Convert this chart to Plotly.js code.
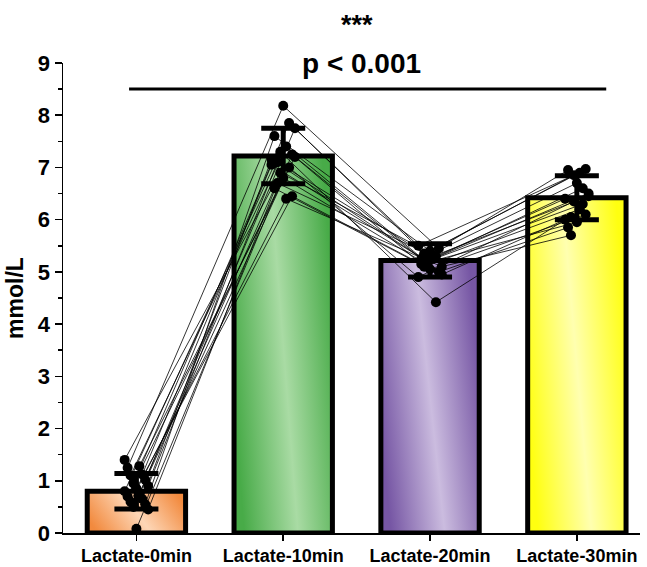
<!DOCTYPE html>
<html>
<head>
<meta charset="utf-8">
<script src="https://cdn.plot.ly/plotly-3.0.1.min.js"></script>
<style>html,body{margin:0;padding:0;background:#fff;}#chart{width:647px;height:567px;}</style>
</head>
<body>
<div id="chart"></div>
<script>
// ---- data ----
const categories = ['Lactate-0min', 'Lactate-10min', 'Lactate-20min', 'Lactate-30min'];
const means = [0.80, 7.22, 5.22, 6.42];
const sds = [0.34, 0.53, 0.32, 0.42];
const lact0 = [1.40, 1.28, 1.25, 1.12, 1.10, 1.02, 0.95, 0.90, 0.85, 0.80, 0.75, 0.70, 0.65, 0.60, 0.55, 0.50, 0.45, 0.08];
const lact10 = [6.90, 7.20, 8.18, 7.05, 7.40, 6.60, 7.85, 7.10, 6.45, 7.30, 7.75, 6.80, 7.15, 6.40, 7.60, 7.00, 6.70, 7.25];
const lact20 = [5.30, 5.10, 5.45, 5.20, 4.95, 5.05, 5.50, 5.25, 5.15, 4.42, 5.35, 5.00, 5.20, 5.10, 5.40, 4.90, 5.30, 5.25];
const lact30 = [6.40, 6.20, 6.95, 6.30, 6.05, 6.10, 6.85, 6.50, 5.95, 6.00, 6.90, 5.85, 6.60, 5.70, 6.97, 6.35, 6.45, 6.70];
const yTicks = [0, 1, 2, 3, 4, 5, 6, 7, 8, 9];
const pText = 'p < 0.001';
const starText = '***';

// ---- styling ----
const gradColors = [
  ['#f28a3e', '#fdd6b6'],
  ['#48ab48', '#a9dba4'],
  ['#7656a4', '#cbbcdf'],
  ['#ffff10', '#ffffb0']
];
const xpos = categories.map((c, i) => i);
const font = 'Liberation Sans, Arial, sans-serif';
const boldFont = (size) => ({family: font, size: size, weight: 'bold', color: '#000'});

const traces = [{
  type: 'bar',
  x: xpos,
  y: means,
  width: 0.67,
  marker: {color: gradColors.map(g => g[1]), line: {color: '#000', width: 5}},
  error_y: {type: 'data', array: sds, visible: true, color: '#000', thickness: 5, width: 22},
  hoverinfo: 'none',
  showlegend: false
}];

const series = [lact0, lact10, lact20, lact30];
for (let s = 0; s < lact0.length; s++) {
  const xs = [], ys = [];
  for (let c = 0; c < series.length; c++) {
    const off = (((s * 5 + c * 3) % 9) - 4) * 0.02;
    xs.push(xpos[c] + off);
    ys.push(series[c][s]);
  }
  traces.push({
    type: 'scatter', mode: 'lines+markers', x: xs, y: ys,
    line: {color: '#000', width: 0.8},
    marker: {color: '#000', size: 10},
    hoverinfo: 'none', showlegend: false, cliponaxis: false
  });
}

const layout = {
  width: 647, height: 567,
  margin: {l: 63, r: 7, t: 63, b: 34},
  paper_bgcolor: '#fff', plot_bgcolor: '#fff',
  font: {family: font, color: '#000'},
  xaxis: {
    range: [-0.5, 3.43], tickvals: xpos, ticktext: categories,
    showgrid: false, zeroline: false, showline: true, linecolor: '#000', linewidth: 1.5,
    ticks: 'outside', ticklen: 6, tickwidth: 1.5, tickcolor: '#000',
    tickfont: boldFont(18)
  },
  yaxis: {
    range: [0, 9], tickvals: yTicks, ticktext: yTicks.map(String),
    showgrid: false, zeroline: false, showline: true, linecolor: '#000', linewidth: 1.5,
    ticks: 'outside', ticklen: 7, tickwidth: 1.5, tickcolor: '#000',
    minor: {dtick: 0.5, ticks: 'outside', ticklen: 4, tickwidth: 1.5, tickcolor: '#000', showgrid: false},
    tickfont: boldFont(22),
    title: {text: 'mmol/L', font: boldFont(23), standoff: 8}
  },
  shapes: [{type: 'line', xref: 'x', yref: 'y', x0: -0.05, x1: 3.2, y0: 8.5, y1: 8.5, line: {color: '#000', width: 3}}],
  annotations: [
    {xref: 'x', yref: 'y', x: 1.53, y: 9.0, text: pText, showarrow: false, yanchor: 'middle', font: boldFont(28)},
    {xref: 'x', yref: 'paper', x: 1.50, y: 1.08, text: starText, showarrow: false, yanchor: 'middle', font: boldFont(27)}
  ]
};

Plotly.newPlot('chart', traces, layout, {displayModeBar: false, staticPlot: true}).then(gd => {
  const svg = gd.querySelector('svg.main-svg');
  let defs = svg.querySelector('defs');
  const NS = 'http://www.w3.org/2000/svg';
  if (!defs) { defs = document.createElementNS(NS, 'defs'); svg.insertBefore(defs, svg.firstChild); }
  gradColors.forEach((g, i) => {
    const lg = document.createElementNS(NS, 'linearGradient');
    lg.setAttribute('id', 'bargrad' + i);
    lg.setAttribute('x1', '0'); lg.setAttribute('y1', '0.65');
    lg.setAttribute('x2', '1'); lg.setAttribute('y2', '0.35');
    [[0, g[0]], [0.5, g[1]], [1, g[0]]].forEach(([o, col]) => {
      const st = document.createElementNS(NS, 'stop');
      st.setAttribute('offset', o); st.setAttribute('stop-color', col);
      lg.appendChild(st);
    });
    defs.appendChild(lg);
  });
  const paths = gd.querySelectorAll('.barlayer .point path');
  paths.forEach((p, i) => { p.style.fill = 'url(#bargrad' + i + ')'; });
});
</script>
</body>
</html>
